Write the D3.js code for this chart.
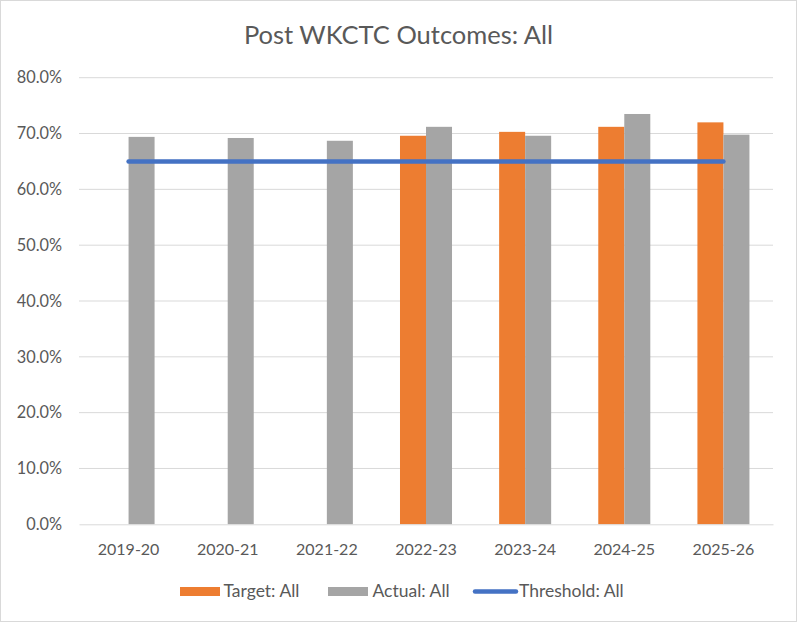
<!DOCTYPE html>
<html><head><meta charset="utf-8">
<script src="https://cdn.jsdelivr.net/npm/d3@7"></script>
<style>
html,body{margin:0;padding:0;background:#fff;}
svg{display:block;font-family:Lato,"Open Sans",sans-serif;}
</style></head>
<body>
<script>
const categories = ["2019-20","2020-21","2021-22","2022-23","2023-24","2024-25","2025-26"];
const targetValues = [null,null,null,0.696,0.703,0.712,0.720];
const actualValues = [0.694,0.692,0.687,0.712,0.696,0.735,0.698];
const thresholdValues = [0.65,0.65,0.65,0.65,0.65,0.65,0.65];
const yTicks = [0,0.1,0.2,0.3,0.4,0.5,0.6,0.7,0.8];
const seriesNames = ["Target: All","Actual: All","Threshold: All"];
const colors = {target:"#ED7D31", actual:"#A5A5A5", threshold:"#4472C4"};

(function(){
const W=797,H=622;
const svg=d3.select("body").append("svg").attr("width",W).attr("height",H);
svg.append("rect").attr("x",0.5).attr("y",0.5).attr("width",W-1).attr("height",H-1)
  .attr("fill","#fff").attr("stroke","#D9D9D9");

const pLeft=79,pRight=773,pTop=77.7,pBottom=524.3;
const y=d3.scaleLinear().domain([0,0.8]).range([pBottom,pTop]);
const x0=d3.scaleBand().domain(categories).range([pLeft,pRight]);
const x1=d3.scaleBand().domain(["target","actual"]).range([0,x0.bandwidth()]).paddingInner(0).paddingOuter(0.906);

// title
svg.append("text").attr("x",398.5).attr("y",43.5).attr("text-anchor","middle")
  .attr("font-size",25.5).attr("fill","#595959").attr("font-weight",400).text("Post WKCTC Outcomes: All");

// gridlines
svg.append("g").selectAll("line").data(yTicks.filter(d=>d>0)).join("line")
  .attr("x1",pLeft).attr("x2",pRight).attr("y1",d=>y(d)).attr("y2",d=>y(d))
  .attr("stroke","#D9D9D9").attr("stroke-width",1);

// y axis labels
const yAxis=d3.axisLeft(y).tickValues(yTicks).tickFormat(d3.format(".1%")).tickSize(0).tickPadding(0);
const gy=svg.append("g").attr("transform",`translate(${pLeft-17},0)`).call(yAxis);
gy.select(".domain").remove();
gy.selectAll("text").attr("font-size",16.3).attr("fill","#595959").attr("font-family","Lato,'Open Sans',sans-serif");

// bars
const gb=svg.append("g");
categories.forEach((c,i)=>{
  [["target",targetValues[i]],["actual",actualValues[i]]].forEach(([k,v])=>{
    if(v==null) return;
    gb.append("rect").attr("x",x0(c)+x1(k)).attr("width",x1.bandwidth())
      .attr("y",y(v)).attr("height",y(0)-y(v)).attr("fill",colors[k]);
  });
});

// x axis
const xAxis=d3.axisBottom(x0).tickSize(0).tickPadding(0);
const gx=svg.append("g").attr("transform",`translate(0,${pBottom})`).call(xAxis);
gx.select(".domain").attr("stroke","#D9D9D9");
gx.selectAll("text").attr("dy",0).attr("y",31).attr("font-size",16).attr("fill","#595959").attr("font-family","Lato,'Open Sans',sans-serif");

// threshold line
const line=d3.line().x((d,i)=>x0(categories[i])+x0.bandwidth()/2).y(d=>y(d));
svg.append("path").datum(thresholdValues).attr("d",line).attr("fill","none")
  .attr("stroke",colors.threshold).attr("stroke-width",4.5).attr("stroke-linecap","round");

// legend
const lg=svg.append("g");
const ly=591.5;
const items=[
  {name:seriesNames[0],type:"rect",color:colors.target,sx:180,tx:223.5},
  {name:seriesNames[1],type:"rect",color:colors.actual,sx:328,tx:372.5},
  {name:seriesNames[2],type:"line",color:colors.threshold,sx:473,tx:519}
];
items.forEach(it=>{
  if(it.type==="rect"){
    lg.append("rect").attr("x",it.sx).attr("y",ly-4.5).attr("width",40).attr("height",9).attr("fill",it.color);
  } else {
    lg.append("line").attr("x1",it.sx+2).attr("x2",it.sx+43).attr("y1",ly).attr("y2",ly)
      .attr("stroke",it.color).attr("stroke-width",4.5).attr("stroke-linecap","round");
  }
  lg.append("text").attr("x",it.tx).attr("y",597).attr("font-size",17.5).attr("fill","#595959").text(it.name);
});
})();
</script>
</body></html>
